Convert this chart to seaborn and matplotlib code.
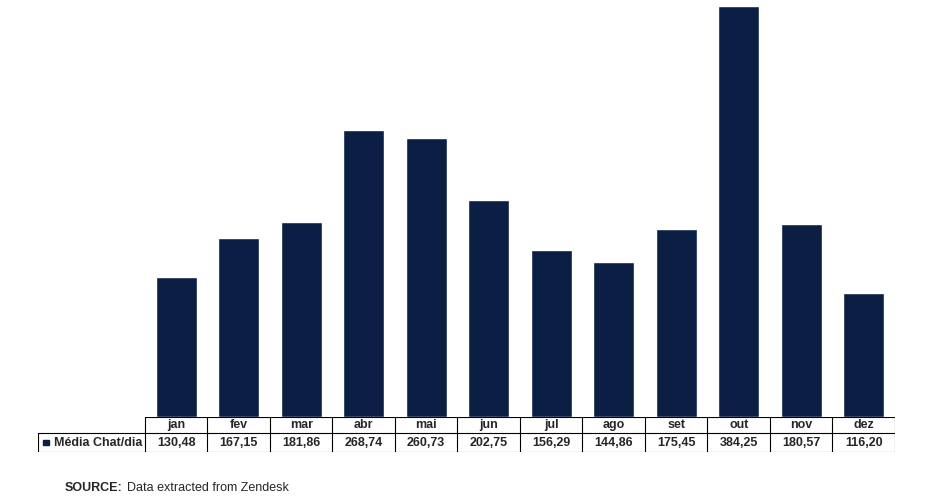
import matplotlib
matplotlib.use("Agg")
import matplotlib.pyplot as plt
import seaborn as sns
import pandas as pd

months = ["jan","fev","mar","abr","mai","jun","jul","ago","set","out","nov","dez"]
values = [130.48,167.15,181.86,268.74,260.73,202.75,156.29,144.86,175.45,384.25,180.57,116.20]
labels = ["130,48","167,15","181,86","268,74","260,73","202,75","156,29","144,86","175,45","384,25","180,57","116,20"]
series = "Média Chat/dia"
color = "#0b1f45"

sns.set_style("white")
plt.rcParams['font.family'] = ['Liberation Sans', 'DejaVu Sans']

W, H = 928, 500
fig = plt.figure(figsize=(W/100, H/100), dpi=100)
x0, x1 = 145, 895
ax = fig.add_axes([x0/W, 1-417/H, (x1-x0)/W, (417-6)/H])
df = pd.DataFrame({"m": months, "v": values})
sns.barplot(data=df, x="m", y="v", color=color, width=0.66, saturation=1, ax=ax)
ax.set_xlim(-0.5, 11.5)
ax.set_ylim(0, 384.25)
ax.axis("off")

# data table
lw = (x1 - 38) / 62.5 - 12  # width of label column in month units
tx = fig.add_axes([38/W, 1-452/H, (x1-38)/W, 35/H])
tx.set_xlim(-lw, 12)
tx.set_ylim(0, 35)
tx.axis("off")
k = dict(color="black", lw=0.8)
tx.plot([0, 12], [35, 35], **k)
tx.plot([-lw, 12], [19, 19], **k)
tx.plot([-lw, 12], [0, 0], **k)
tx.plot([-lw, -lw], [0, 19], **k)
for i in range(13):
    tx.plot([i, i], [0, 35], **k)
for i, (m, l) in enumerate(zip(months, labels)):
    tx.text(i+0.5, 27, m, ha="center", va="center", fontsize=9, fontweight="bold")
    tx.text(i+0.5, 9.5, l, ha="center", va="center", fontsize=9, fontweight="bold")
tx.add_patch(plt.Rectangle((-lw+0.08, 7), 0.09, 5, color=color))
tx.text(-lw+0.25, 9.5, series, ha="left", va="center", fontsize=9, fontweight="bold")

fig.text(65/W, 1-488/H, "SOURCE:", fontsize=9, fontweight="bold", va="center")
fig.text(127/W, 1-488/H, "Data extracted from Zendesk", fontsize=9, va="center")

fig.savefig("out.png", dpi=100)
